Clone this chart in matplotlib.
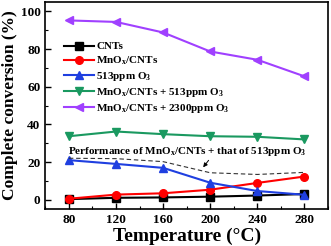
import matplotlib
matplotlib.use("Agg")
from matplotlib import pyplot as plt
from matplotlib.ticker import MultipleLocator

plt.rcParams['font.family'] = 'Liberation Serif'
plt.rcParams['font.weight'] = 'bold'
plt.rcParams['mathtext.fontset'] = 'custom'
plt.rcParams['mathtext.rm'] = 'Liberation Serif:bold'
plt.rcParams['mathtext.bf'] = 'Liberation Serif:bold'
plt.rcParams['mathtext.it'] = 'Liberation Serif:bold'
plt.rcParams['mathtext.default'] = 'bf'

# data
temps = [80, 120, 160, 200, 240, 280]
cnts = [0.3, 1.0, 1.2, 1.6, 2.2, 3.0]
mnox = [0.5, 2.7, 3.4, 5.3, 8.9, 12.3]
ozone = [21.0, 19.0, 16.9, 9.0, 4.6, 2.6]
mnox_o3 = [33.7, 36.2, 34.8, 33.7, 33.4, 32.0]
mnox_o3_high = [95.2, 94.4, 88.8, 78.7, 74.3, 65.5]
summed = [22.0, 21.8, 20.2, 14.3, 13.4, 14.5]

labels = ['CNTs', r'MnO$_\mathbf{x}$/CNTs', r'513ppm O$_\mathbf{3}$',
          r'MnO$_\mathbf{x}$/CNTs + 513ppm O$_\mathbf{3}$',
          r'MnO$_\mathbf{x}$/CNTs + 2300ppm O$_\mathbf{3}$']

fig = plt.figure(figsize=(3.31, 2.46), dpi=100)
ax = fig.add_axes([0.137, 0.150, 0.854, 0.842])

series = [(cnts, 'black', 's'), (mnox, 'red', 'o'), (ozone, '#1f3fe0', '^'),
          (mnox_o3, '#1a9960', 'v'), (mnox_o3_high, '#a040ff', '<')]
for (vals, col, mk), lab in zip(series, labels):
    ax.plot(temps, vals, color=col, marker=mk, ms=5.5, lw=1.5, label=lab)

ax.plot(temps, summed, color='#333333', ls='--', lw=0.8, dashes=(4, 2.5))
ax.annotate(r'Performance of MnO$_\mathbf{x}$/CNTs + that of 513ppm O$_\mathbf{3}$',
            xy=(194, 17.2), xytext=(79, 24.5), fontsize=8,
            arrowprops=dict(arrowstyle='-|>', color='black', lw=0.7,
                            mutation_scale=6, shrinkA=0, shrinkB=0,
                            relpos=(0.6, 0)))

ax.set_xlim(60, 300)
ax.set_ylim(-5, 105)
ax.set_xticks(temps)
ax.set_yticks([0, 20, 40, 60, 80, 100])
ax.xaxis.set_minor_locator(MultipleLocator(20))
ax.yaxis.set_minor_locator(MultipleLocator(10))
ax.tick_params(which='both', direction='in', labelsize=9.5)
ax.tick_params(which='major', length=4, width=1)
ax.tick_params(which='minor', length=2, width=0.8)
for s in ax.spines.values():
    s.set_linewidth(1.2)

ax.set_xlabel('Temperature (°C)', fontsize=14, fontweight='bold', labelpad=1)
ax.set_ylabel('Complete conversion (%)', fontsize=12.5, fontweight='bold', labelpad=2)

ax.legend(loc='upper left', bbox_to_anchor=(0.05, 0.83), frameon=False,
          fontsize=8, labelspacing=0.28, handlelength=2.7, handletextpad=0.2,
          borderaxespad=0)

fig.savefig('out.png', dpi=100)
